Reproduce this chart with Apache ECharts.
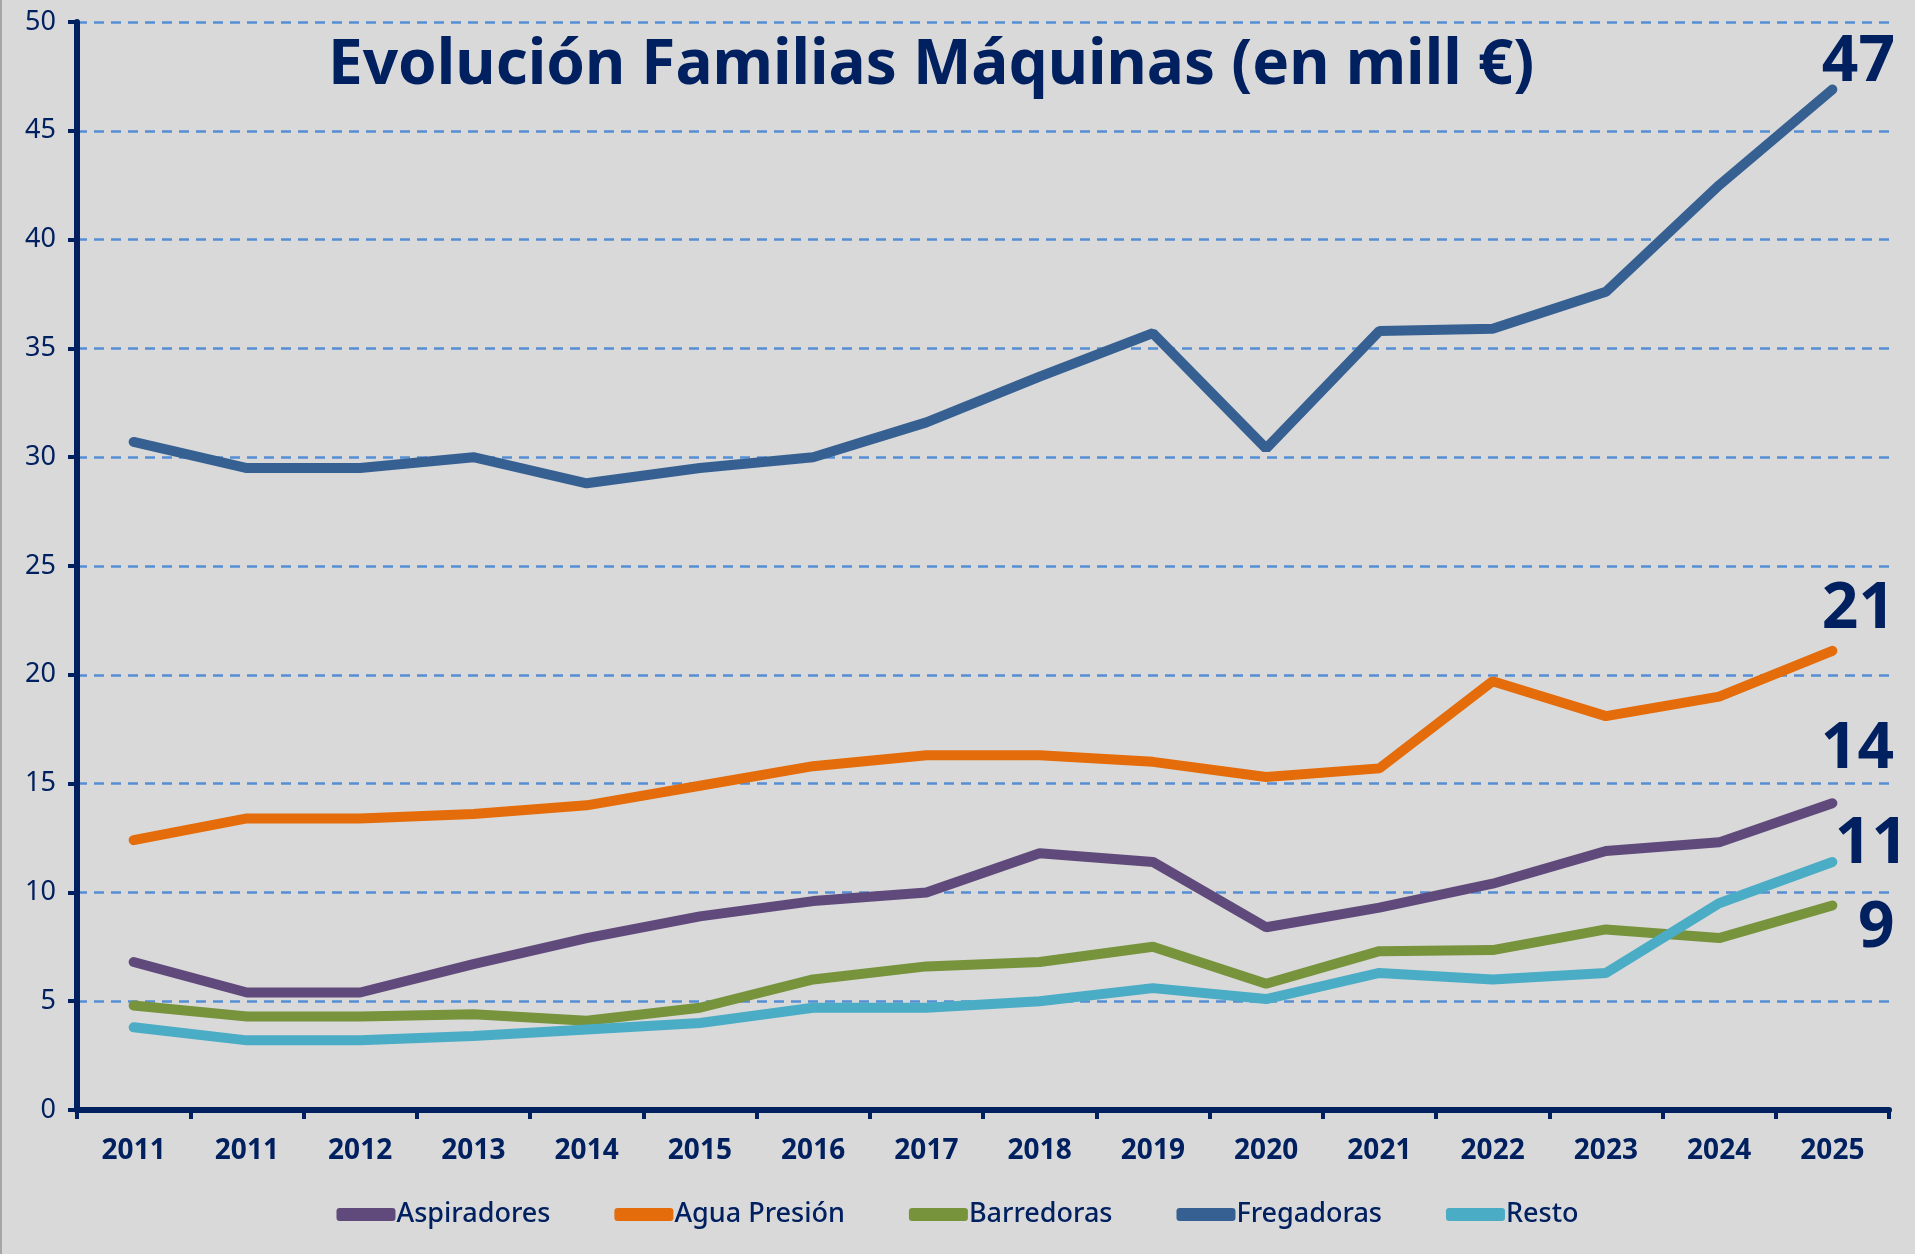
<!DOCTYPE html>
<html>
<head>
<meta charset="utf-8">
<script src="https://cdn.jsdelivr.net/npm/echarts@6/dist/echarts.min.js"></script>
<style>
    html, body { margin: 0; padding: 0; background: #D9D9D9; }
    #chart { width: 1915px; height: 1254px; }
</style>
</head>
<body>
<div id="chart"></div>
<script>
    // datos
    var years = ['2011', '2011', '2012', '2013', '2014', '2015', '2016', '2017', '2018', '2019', '2020', '2021', '2022', '2023', '2024', '2025'];
    var aspiradores = [6.8, 5.4, 5.4, 6.7, 7.9, 8.9, 9.6, 10.0, 11.8, 11.4, 8.4, 9.3, 10.4, 11.9, 12.3, 14.1];
    var aguaPresion = [12.4, 13.4, 13.4, 13.6, 14.0, 14.9, 15.8, 16.3, 16.3, 16.0, 15.3, 15.7, 19.7, 18.1, 19.0, 21.1];
    var barredoras = [4.8, 4.3, 4.3, 4.4, 4.1, 4.7, 6.0, 6.6, 6.8, 7.5, 5.8, 7.3, 7.35, 8.3, 7.9, 9.4];
    var fregadoras = [30.7, 29.5, 29.5, 30.0, 28.8, 29.5, 30.0, 31.6, 33.7, 35.7, 30.4, 35.8, 35.9, 37.6, 42.5, 46.9];
    var resto = [3.8, 3.2, 3.2, 3.4, 3.7, 4.0, 4.7, 4.7, 5.0, 5.6, 5.1, 6.3, 6.0, 6.3, 9.5, 11.4];

    var navy = '#002060';
    var font = "'Noto Sans', sans-serif";

    var myChart = echarts.init(document.getElementById('chart'));

    function linea(name, data, color, offset) {
        return {
            name: name,
            type: 'line',
            data: data,
            symbol: 'none',
            lineStyle: { color: color, width: 10, cap: 'round' },
            itemStyle: { color: color },
            endLabel: {
                show: true,
                formatter: function (p) { return Math.round(p.value); },
                distance: 0,
                align: 'center',
                verticalAlign: 'middle',
                offset: offset,
                color: navy,
                fontFamily: font,
                fontWeight: 'bold',
                fontSize: 64
            }
        };
    }

    myChart.setOption({
        backgroundColor: '#D9D9D9',
        animation: false,
        title: {
            text: 'Evolución Familias Máquinas (en mill €)',
            left: 323,
            top: 30,
            textStyle: {
                color: navy,
                fontFamily: font,
                fontWeight: 'bold',
                fontSize: 62
            }
        },
        graphic: [{
            type: 'rect',
            shape: { x: 0, y: 0, width: 2, height: 1254 },
            style: { fill: '#A6A6A6' }
        }],
        legend: {
            bottom: 21,
            left: 'center',
            itemWidth: 59,
            itemHeight: 13,
            itemGap: 64,
            icon: 'roundRect',
            textStyle: { color: navy, fontFamily: font, fontSize: 27, fontWeight: 500, padding: [0, 0, 0, -4] },
            data: ['Aspiradores', 'Agua Presión', 'Barredoras', 'Fregadoras', 'Resto']
        },
        grid: { left: 77, right: 26, top: 22, bottom: 144 },
        xAxis: {
            type: 'category',
            data: years,
            boundaryGap: true,
            axisLine: { lineStyle: { color: navy, width: 6 } },
            axisTick: { show: true, length: 9, lineStyle: { color: navy, width: 4 } },
            axisLabel: {
                color: navy,
                fontFamily: font,
                fontWeight: 'bold',
                fontSize: 28,
                margin: 27,
                interval: 0
            }
        },
        yAxis: {
            type: 'value',
            min: 0,
            max: 50,
            interval: 5,
            axisLine: { show: true, lineStyle: { color: navy, width: 6 } },
            axisTick: { show: true, length: 9, lineStyle: { color: navy, width: 4 } },
            axisLabel: {
                color: navy,
                fontFamily: font,
                fontSize: 27,
                margin: 21
            },
            splitLine: {
                show: true,
                lineStyle: { color: '#558ED5', width: 2.5, type: [10, 7] }
            }
        },
        series: [
            linea('Aspiradores', aspiradores, '#604A7B', [25, -53]),
            linea('Agua Presión', aguaPresion, '#E46C0A', [26, -41]),
            linea('Barredoras', barredoras, '#77933C', [44, 23]),
            linea('Fregadoras', fregadoras, '#376092', [26, -27]),
            linea('Resto', resto, '#4BACC6', [39, -17])
        ]
    });
</script>
</body>
</html>
